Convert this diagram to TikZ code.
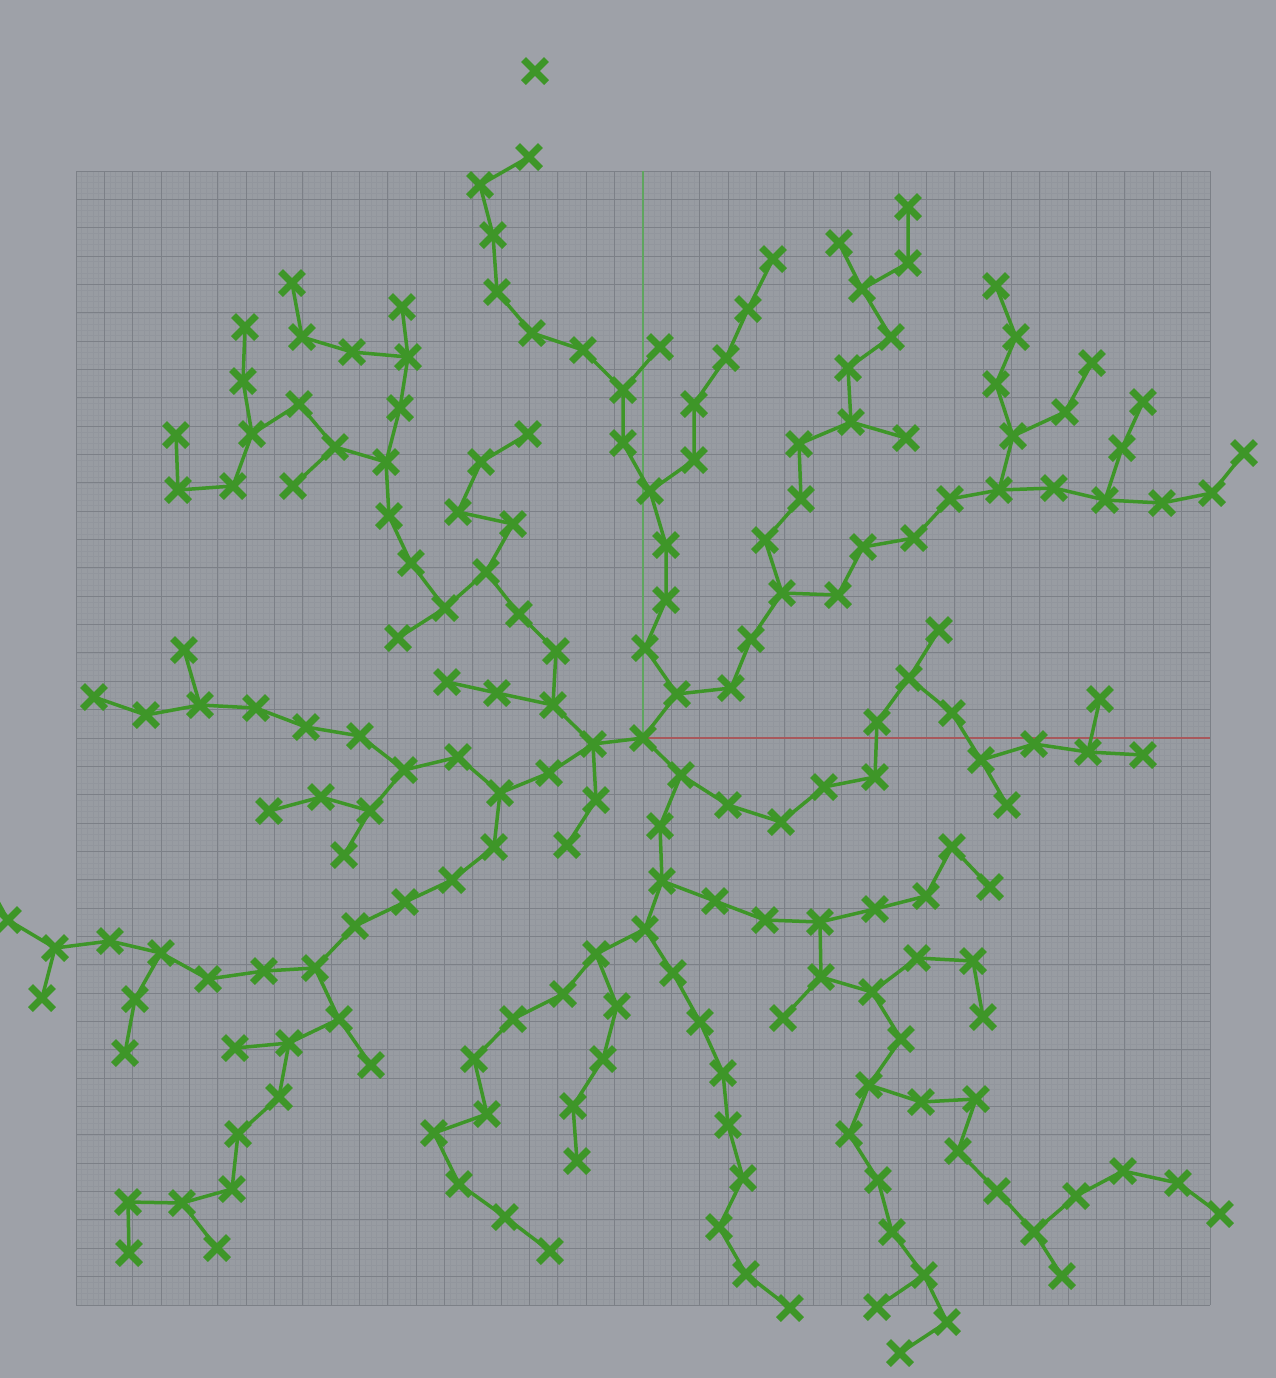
\documentclass[tikz,border=0pt]{standalone}
\usetikzlibrary{shapes.misc}

\definecolor{canvas}{RGB}{158,161,168}
\definecolor{sheet}{RGB}{152,156,162}
\definecolor{fine}{RGB}{146,150,157}
\definecolor{coarse}{RGB}{124,128,135}
\definecolor{knot}{RGB}{62,150,40}
\definecolor{yaxis}{RGB}{95,165,95}
\definecolor{xaxis}{RGB}{168,88,92}

\tikzset{
  twig/.style={draw=knot, line width=1.75pt, line join=round},
  xmark/.style={cross out, draw=knot, line width=3.5pt, minimum size=8pt, inner sep=0pt},
  fineline/.style={draw=fine, line width=.25pt},
  coarseline/.style={draw=coarse, line width=.5pt}
}

\begin{document}
\begin{tikzpicture}[x=0.5pt, y=-0.5pt]

  \newcommand\Knots{o/643/738, iso/535/71,
    a1/677/694, a2/645/648, a3/666/600, a4/666/545, a5/650/491, a6/623/443, a7/623/390, a8/660/347,
    a9/583/350, a10/532/333, a11/497/292, a12/493/235, a13/480/185, a14/529/157,
    a15/694/460, a16/694/404, a17/726/358, a18/748/309, a19/773/259,
    b1/731/688, b2/751/639, b3/782/593, b4/765/540, b5/801/499, b6/799/444, b7/851/422, b8/906/438,
    b9/848/368, b10/891/337, b11/862/289, b12/839/243, b13/908/263, b14/908/207,
    c1/838/595, c2/863/547, c3/914/538, c4/950/499, c5/999/490, c6/1054/488, c7/1105/500, c8/1162/503,
    c9/1212/493, c10/1244/453, c11/1013/436, c12/996/384, c13/1016/337, c14/996/286, c15/1065/412,
    c16/1092/363, c17/1122/448, c18/1143/402,
    d1/593/744, d2/553/705, d3/497/693, d4/447/682, d5/556/651, d6/519/614, d7/486/572, d8/513/524,
    d9/458/512, d10/481/462, d11/528/434, d12/445/608, d13/398/638, d14/411/563, d15/389/516,
    d16/386/462, d17/400/408, d18/408/357, d19/402/307, d20/352/352, d21/302/337, d22/292/283,
    d23/335/447, d24/293/486, d25/299/404, d26/252/434, d27/243/381, d28/245/327, d29/233/486,
    d30/178/490, d31/176/435,
    e1/549/773, e2/500/793, e3/458/757, e4/404/770, e5/360/736, e6/306/727, e7/256/708, e8/200/705,
    e9/146/715, e10/94/697, e11/184/650, e12/370/811, e13/321/797, e14/269/811, e15/344/855,
    e16/596/800, e17/567/845,
    f1/494/847, f2/452/880, f3/405/902, f4/355/926, f5/315/968, f6/264/971, f7/208/979, f8/161/953,
    f9/110/941, f10/55/948, f11/8/920, f13/42/998, f14/135/999, f15/125/1053, f16/339/1019,
    f17/371/1065, f18/289/1043, f19/235/1048, f20/279/1097, f21/238/1134, f22/232/1189,
    f23/182/1203, f24/128/1202, f25/129/1253, f26/217/1248,
    g1/681/775, g2/660/826, g3/662/881, g4/645/929, g5/596/954, g6/563/994, g7/513/1019, g8/474/1059,
    g9/487/1114, g10/434/1133, g11/459/1184, g12/505/1217, g13/550/1251, g14/617/1006, g15/603/1059,
    g16/573/1106, g17/577/1161, g18/673/973, g19/700/1022, g20/723/1073, g21/728/1125, g22/743/1178,
    g23/719/1227, g24/746/1274, g25/790/1308,
    h1/715/901, h2/765/920, h3/820/922, h4/875/909, h5/926/896, h6/952/847, h7/990/887, h8/821/977,
    h9/783/1018, h10/872/992, h11/917/958, h12/973/961, h13/983/1017, h14/901/1039, h15/869/1085,
    h16/849/1134, h17/878/1180, h18/892/1232, h19/924/1275, h20/877/1307, h21/947/1322, h22/900/1353,
    h23/921/1102, h24/976/1099, h25/958/1151, h26/997/1191, h27/1034/1232, h28/1062/1276,
    h29/1076/1196, h30/1123/1171, h31/1178/1183, h32/1220/1214,
    k1/728/805, k2/781/822, k3/824/787, k4/875/777, k5/877/722, k6/909/678, k7/939/630, k8/952/713,
    k9/981/760, k10/1007/805, k11/1034/744, k12/1088/752, k13/1143/755, k14/1100/699};

  \useasboundingbox (0,0) rectangle (1276,1378);
  \clip (0,0) rectangle (1276,1378);
  \fill[canvas] (0,0) rectangle (1276,1378);

  %% grid
  \fill[sheet] (76,171) rectangle (1210,1305);
  \foreach \i in {0,...,200} {
    \draw[fineline] ({76+\i*5.67},171) -- ({76+\i*5.67},1305);
    \draw[fineline] (76,{171+\i*5.67}) -- (1210,{171+\i*5.67});
  }
  \foreach \i in {0,...,40} {
    \draw[coarseline] ({76+\i*28.35},171) -- ({76+\i*28.35},1305);
    \draw[coarseline] (76,{171+\i*28.35}) -- (1210,{171+\i*28.35});
  }

  %% axes
  \coordinate (top) at (643,171);
  \coordinate (right) at (1210,738);
  \foreach \n/\x/\y in \Knots \coordinate (\n) at (\x,\y);
  \coordinate (f12) at (-15,878); % leaves the page
  \draw[yaxis, line width=1pt] (o) -- (top);
  \draw[xaxis, line width=1pt] (o) -- (right);

  %% top
  \draw[twig] (o) -- (a1) -- (a2) -- (a3) -- (a4) -- (a5) -- (a6) -- (a7) -- (a9) -- (a10) -- (a11) -- (a12) -- (a13) -- (a14);
  \draw[twig] (a7) -- (a8);
  \draw[twig] (a5) -- (a15) -- (a16) -- (a17) -- (a18) -- (a19);
  \draw[twig] (a1) -- (b1) -- (b2) -- (b3) -- (b4) -- (b5) -- (b6) -- (b7) -- (b9) -- (b10) -- (b11) -- (b12);
  \draw[twig] (b7) -- (b8);
  \draw[twig] (b11) -- (b13) -- (b14);
  \draw[twig] (b3) -- (c1) -- (c2) -- (c3) -- (c4) -- (c5) -- (c6) -- (c7) -- (c8) -- (c9) -- (c10);
  \draw[twig] (c5) -- (c11) -- (c12) -- (c13) -- (c14);
  \draw[twig] (c11) -- (c15) -- (c16);
  \draw[twig] (c7) -- (c17) -- (c18);

  %% upper left
  \draw[twig] (o) -- (d1) -- (d2) -- (d5) -- (d6) -- (d7) -- (d12) -- (d14) -- (d15) -- (d16) -- (d17) -- (d18) -- (d20) -- (d21) -- (d22);
  \draw[twig] (d2) -- (d3) -- (d4);
  \draw[twig] (d7) -- (d8) -- (d9) -- (d10) -- (d11);
  \draw[twig] (d12) -- (d13);
  \draw[twig] (d18) -- (d19);
  \draw[twig] (d16) -- (d23) -- (d25) -- (d26) -- (d27) -- (d28);
  \draw[twig] (d23) -- (d24);
  \draw[twig] (d26) -- (d29) -- (d30) -- (d31);

  %% left
  \draw[twig] (d1) -- (e1) -- (e2) -- (e3) -- (e4) -- (e5) -- (e6) -- (e7) -- (e8) -- (e9) -- (e10);
  \draw[twig] (e8) -- (e11);
  \draw[twig] (e4) -- (e12) -- (e13) -- (e14);
  \draw[twig] (e12) -- (e15);
  \draw[twig] (d1) -- (e16) -- (e17);

  %% lower left
  \draw[twig] (e2) -- (f1) -- (f2) -- (f3) -- (f4) -- (f5) -- (f6) -- (f7) -- (f8) -- (f9) -- (f10) -- (f11) -- (f12);
  \draw[twig] (f10) -- (f13);
  \draw[twig] (f8) -- (f14) -- (f15);
  \draw[twig] (f5) -- (f16) -- (f17);
  \draw[twig] (f16) -- (f18) -- (f19);
  \draw[twig] (f18) -- (f20) -- (f21) -- (f22) -- (f23) -- (f24) -- (f25);
  \draw[twig] (f23) -- (f26);

  %% bottom
  \draw[twig] (o) -- (g1) -- (g2) -- (g3) -- (g4) -- (g5) -- (g6) -- (g7) -- (g8) -- (g9) -- (g10) -- (g11) -- (g12) -- (g13);
  \draw[twig] (g5) -- (g14) -- (g15) -- (g16) -- (g17);
  \draw[twig] (g4) -- (g18) -- (g19) -- (g20) -- (g21) -- (g22) -- (g23) -- (g24) -- (g25);

  %% lower right
  \draw[twig] (g3) -- (h1) -- (h2) -- (h3) -- (h4) -- (h5) -- (h6) -- (h7);
  \draw[twig] (h3) -- (h8) -- (h9);
  \draw[twig] (h8) -- (h10) -- (h11) -- (h12) -- (h13);
  \draw[twig] (h10) -- (h14) -- (h15) -- (h16) -- (h17) -- (h18) -- (h19) -- (h20);
  \draw[twig] (h19) -- (h21) -- (h22);
  \draw[twig] (h15) -- (h23) -- (h24) -- (h25) -- (h26) -- (h27) -- (h28);
  \draw[twig] (h27) -- (h29) -- (h30) -- (h31) -- (h32);

  %% right
  \draw[twig] (g1) -- (k1) -- (k2) -- (k3) -- (k4) -- (k5) -- (k6) -- (k7);
  \draw[twig] (k6) -- (k8) -- (k9) -- (k10);
  \draw[twig] (k9) -- (k11) -- (k12) -- (k13);
  \draw[twig] (k12) -- (k14);

  %% crosses
  \foreach \n/\x/\y in \Knots \node[xmark] at (\n) {};

\end{tikzpicture}
\end{document}
